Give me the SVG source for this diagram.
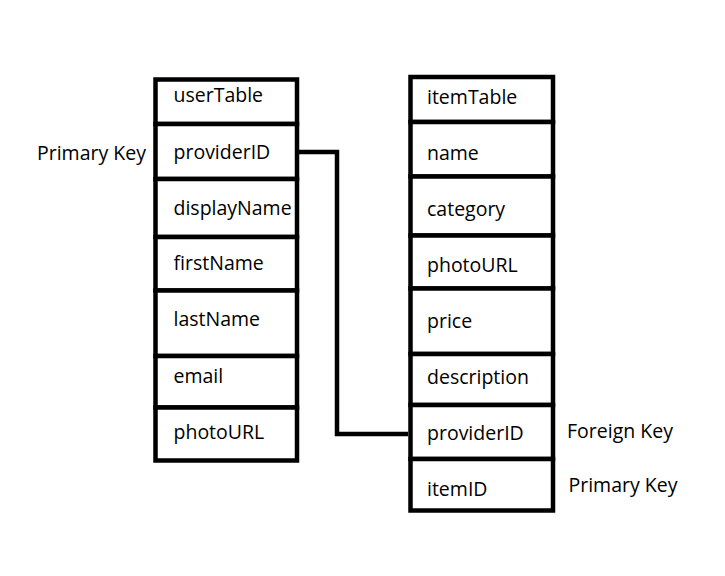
<svg xmlns="http://www.w3.org/2000/svg" width="725" height="576" viewBox="0 0 725 576">
<style>
.cell{fill:#fff;stroke:#000;stroke-width:4.5}
.t{font-family:"Comic Sans MS","Open Sans",sans-serif;font-size:19.5px;fill:#000}
.conn{fill:none;stroke:#000;stroke-width:4.5}
</style>
<rect width="725" height="576" fill="#fff"/>
<g id="userTable">
<g id="u-title"><rect class="cell" x="155.5" y="79.5" width="141.5" height="44.5"/><text class="t" x="173.5" y="102">userTable</text></g>
<g id="u-providerID"><rect class="cell" x="155.5" y="124" width="141.5" height="55"/><text class="t" x="173.5" y="159">providerID</text></g>
<g id="u-displayName"><rect class="cell" x="155.5" y="179" width="141.5" height="58"/><text class="t" x="173.5" y="215">displayName</text></g>
<g id="u-firstName"><rect class="cell" x="155.5" y="237" width="141.5" height="53.5"/><text class="t" x="173.5" y="270">firstName</text></g>
<g id="u-lastName"><rect class="cell" x="155.5" y="290.5" width="141.5" height="65.5"/><text class="t" x="173.5" y="326">lastName</text></g>
<g id="u-email"><rect class="cell" x="155.5" y="356" width="141.5" height="51.5"/><text class="t" x="173.5" y="383">email</text></g>
<g id="u-photoURL"><rect class="cell" x="155.5" y="407.5" width="141.5" height="53"/><text class="t" x="173.5" y="439">photoURL</text></g>
</g>
<g id="itemTable">
<g id="i-title"><rect class="cell" x="410.5" y="77" width="142.5" height="45"/><text class="t" x="427" y="103.5">itemTable</text></g>
<g id="i-name"><rect class="cell" x="410.5" y="122" width="142.5" height="54.5"/><text class="t" x="427" y="159.5">name</text></g>
<g id="i-category"><rect class="cell" x="410.5" y="176.5" width="142.5" height="59"/><text class="t" x="427" y="216">category</text></g>
<g id="i-photoURL"><rect class="cell" x="410.5" y="235.5" width="142.5" height="53"/><text class="t" x="427" y="271.5">photoURL</text></g>
<g id="i-price"><rect class="cell" x="410.5" y="288.5" width="142.5" height="65.5"/><text class="t" x="427" y="327.5">price</text></g>
<g id="i-description"><rect class="cell" x="410.5" y="354" width="142.5" height="51"/><text class="t" x="427" y="384">description</text></g>
<g id="i-providerID"><rect class="cell" x="410.5" y="405" width="142.5" height="54"/><text class="t" x="427" y="440">providerID</text></g>
<g id="i-itemID"><rect class="cell" x="410.5" y="459" width="142.5" height="51.5"/><text class="t" x="427" y="496">itemID</text></g>
</g>
<g id="labels">
<text class="t" x="37" y="160">Primary Key</text>
<text class="t" x="567" y="438">Foreign Key</text>
<text class="t" x="568.5" y="491.5">Primary Key</text>
</g>
<g id="connectors">
<polyline class="conn" points="299,152 337,152 337,434 408,434"/>
</g>
</svg>
